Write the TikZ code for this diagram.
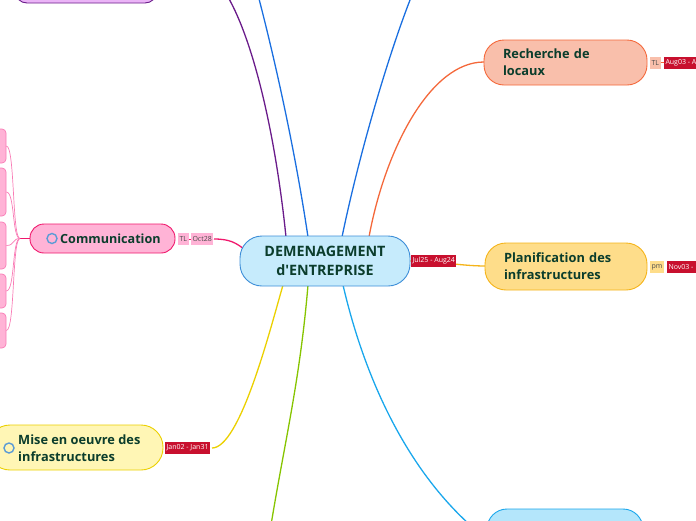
\documentclass[tikz,border=0pt]{standalone}
\usepackage{fontspec}
\setmainfont{Open Sans}
\newfontfamily\boldf{Open Sans Bold}
\definecolor{txt}{HTML}{0B3D2C}
\definecolor{cfill}{HTML}{C6EBFC}\definecolor{cline}{HTML}{3D8ED8}
\definecolor{rfill}{HTML}{F9BFAB}\definecolor{rline}{HTML}{F4683A}
\definecolor{pfill}{HTML}{FEDD8A}\definecolor{pline}{HTML}{F5B41A}
\definecolor{kfill}{HTML}{FFB3D6}\definecolor{kline}{HTML}{F0186C}\definecolor{kchild}{HTML}{F97CB6}
\definecolor{mfill}{HTML}{FFF6B5}\definecolor{mline}{HTML}{EBD000}
\definecolor{gline}{HTML}{86C400}
\definecolor{lbfill}{HTML}{B4E6FB}\definecolor{lbline}{HTML}{1AA7EC}
\definecolor{bline}{HTML}{1A6FE0}
\definecolor{vfill}{HTML}{EBB4F7}\definecolor{vline}{HTML}{6A1B8A}
\definecolor{crim}{HTML}{C8102E}
\definecolor{icon}{HTML}{5B9BD5}
\tikzset{
  topic/.style={draw, line width=0.9pt, text=txt, font=\boldf\fontsize{12.8}{17}\selectfont, align=left, inner ysep=0pt, outer sep=0pt},
  datebox/.style={fill=crim, text=white, font=\fontsize{7}{8}\selectfont, inner xsep=1.5pt, inner ysep=0pt, minimum height=12pt, anchor=west, outer sep=0pt},
  tagbox/.style={text=black!70, font=\fontsize{7}{8}\selectfont, inner xsep=1.5pt, inner ysep=0pt, minimum height=12pt, anchor=west, outer sep=0pt},
  conn/.style={line width=1.3pt},
  ico/.style={draw=icon, line width=1.4pt, circle, minimum size=10pt, inner sep=0pt},
}
\begin{document}
\begin{tikzpicture}[x=1pt,y=-1pt]
\useasboundingbox (0,0) rectangle (696,520);
% connectors behind
\coordinate (cN1) at (286,237); \coordinate (cN2) at (308,237);
\coordinate (cN3) at (342,237); \coordinate (cN4) at (369,237);
\coordinate (cS1) at (283,285); \coordinate (cS2) at (308,285); \coordinate (cS3) at (343,285);
\coordinate (cE) at (409,261); \coordinate (cW) at (244,249);
\coordinate (topV) at (225,-8); \coordinate (topB1) at (258,-5); \coordinate (topB2) at (412,-5);
\coordinate (botG) at (271,525);
\draw[vline,conn] (cN1) .. controls (275,130) and (252,35) .. (topV);
\draw[bline,conn] (cN2) .. controls (295,150) and (275,60) .. (topB1);
\draw[bline,conn] (cN3) .. controls (360,150) and (390,50) .. (topB2);
\draw[rline,conn] (cN4) .. controls (385,150) and (430,62) .. (484,62);
\draw[pline,conn] (cE) .. controls (440,261) and (460,266) .. (486,266);
\draw[kline,conn] (214,239) .. controls (230,239) and (236,243) .. (cW);
\draw[mline,conn] (212,448) .. controls (240,448) and (270,330) .. (cS1);
\draw[gline,conn] (cS2) .. controls (300,380) and (285,440) .. (botG);
\draw[lbline,conn] (cS3) .. controls (365,380) and (410,480) .. (488,540);

% central
\node[topic, fill=cfill, draw=cline, rounded corners=22pt, minimum width=170pt, minimum height=50pt, align=center, font=\boldf\fontsize{14.3}{19}\selectfont] (central) at (325,261) {DEMENAGEMENT\\d'ENTREPRISE};
\node[datebox] (d1) at (411,261) {Jul25 - Aug24};

% Recherche
\node[topic, fill=rfill, draw=rline, rounded corners=20pt, minimum height=45pt, text width=125pt, inner xsep=19pt] (rech) at (565.5,62.5) {Recherche de\\locaux};
\node[tagbox, fill=rfill] (t1) at (650,62.5) {TL};
\draw[rline, line width=0.6pt] (t1.east) -- ++(3,0) coordinate (t1e);
\fill[crim] (664,56.5) rectangle (700,68.5);
\node[datebox] (d2) at (664,62.5) {Aug03 - A};

% Planification
\node[topic, fill=pfill, draw=pline, rounded corners=21pt, minimum height=47pt, text width=124pt, inner xsep=19pt] (plan) at (566,266.5) {Planification des\\infrastructures};
\node[tagbox, fill=pfill] (t2) at (650,267) {pm};
\fill[crim] (667,261) rectangle (700,273);
\node[datebox] (d3) at (667,267) {Nov03 -};

% Communication
\node[topic, fill=kfill, draw=kline, rounded corners=14pt, minimum width=145pt, minimum height=29pt] (comm) at (102.5,238.5) {};
\node[ico] (ic1) at (52,238.5) {};
\node[text=txt, font=\boldf\fontsize{12.6}{14}\selectfont, anchor=west, inner sep=0pt] (commt) at (60,239) {Communication};
\node[tagbox, fill=kfill] (t3) at (178,239) {TL};
\draw[kline, line width=0.6pt] (t3.east) -- ++(2,0);
\node[tagbox, fill=kfill] (t4) at (191,239) {Oct28};

% children of Communication
\coordinate (jn) at (20,238.5);
\draw[kline, line width=1pt] (comm.west) -- (jn);
\foreach \n/\a/\b in {k1/129/163,k2/168/216,k3/222/269,k4/274/308,k5/313/348}{
  \node[draw=kchild, fill=kfill, rounded corners=4pt, minimum width=16pt, minimum height={\b-\a}, inner sep=0pt, line width=0.7pt] (\n) at (-2,{(\a+\b)/2}) {};
  \draw[kchild, line width=0.7pt] (jn) .. controls (12,238.5) and (15,{(\a+\b)/2}) .. (\n.east);
}

% Mise en oeuvre
\node[topic, fill=mfill, draw=mline, rounded corners=22pt, minimum height=45pt, text width=175pt, inner xsep=0pt, anchor=west] (mise) at (-12,447.5) {};
\node[ico] (ic2) at (9,448) {};
\node[text=txt, font=\boldf\fontsize{12.8}{17}\selectfont, align=left, anchor=west, inner sep=0pt] (miset) at (18,448) {Mise en oeuvre des\\infrastructures};
\node[datebox] (d4) at (165,448) {Jan02 - Jan31};

% purple top-left box
\draw[vline, fill=vfill, line width=0.9pt, rounded corners=12pt] (15,-40) rectangle (157,3);
\node[inner sep=0pt] (vbox) at (86,-20) {};

% bottom right box
\draw[lbline, fill=lbfill, line width=0.9pt, rounded corners=20pt] (487,509) rectangle (643,570);
\node[inner sep=0pt] (lbox) at (565,540) {};
\end{tikzpicture}
\end{document}
